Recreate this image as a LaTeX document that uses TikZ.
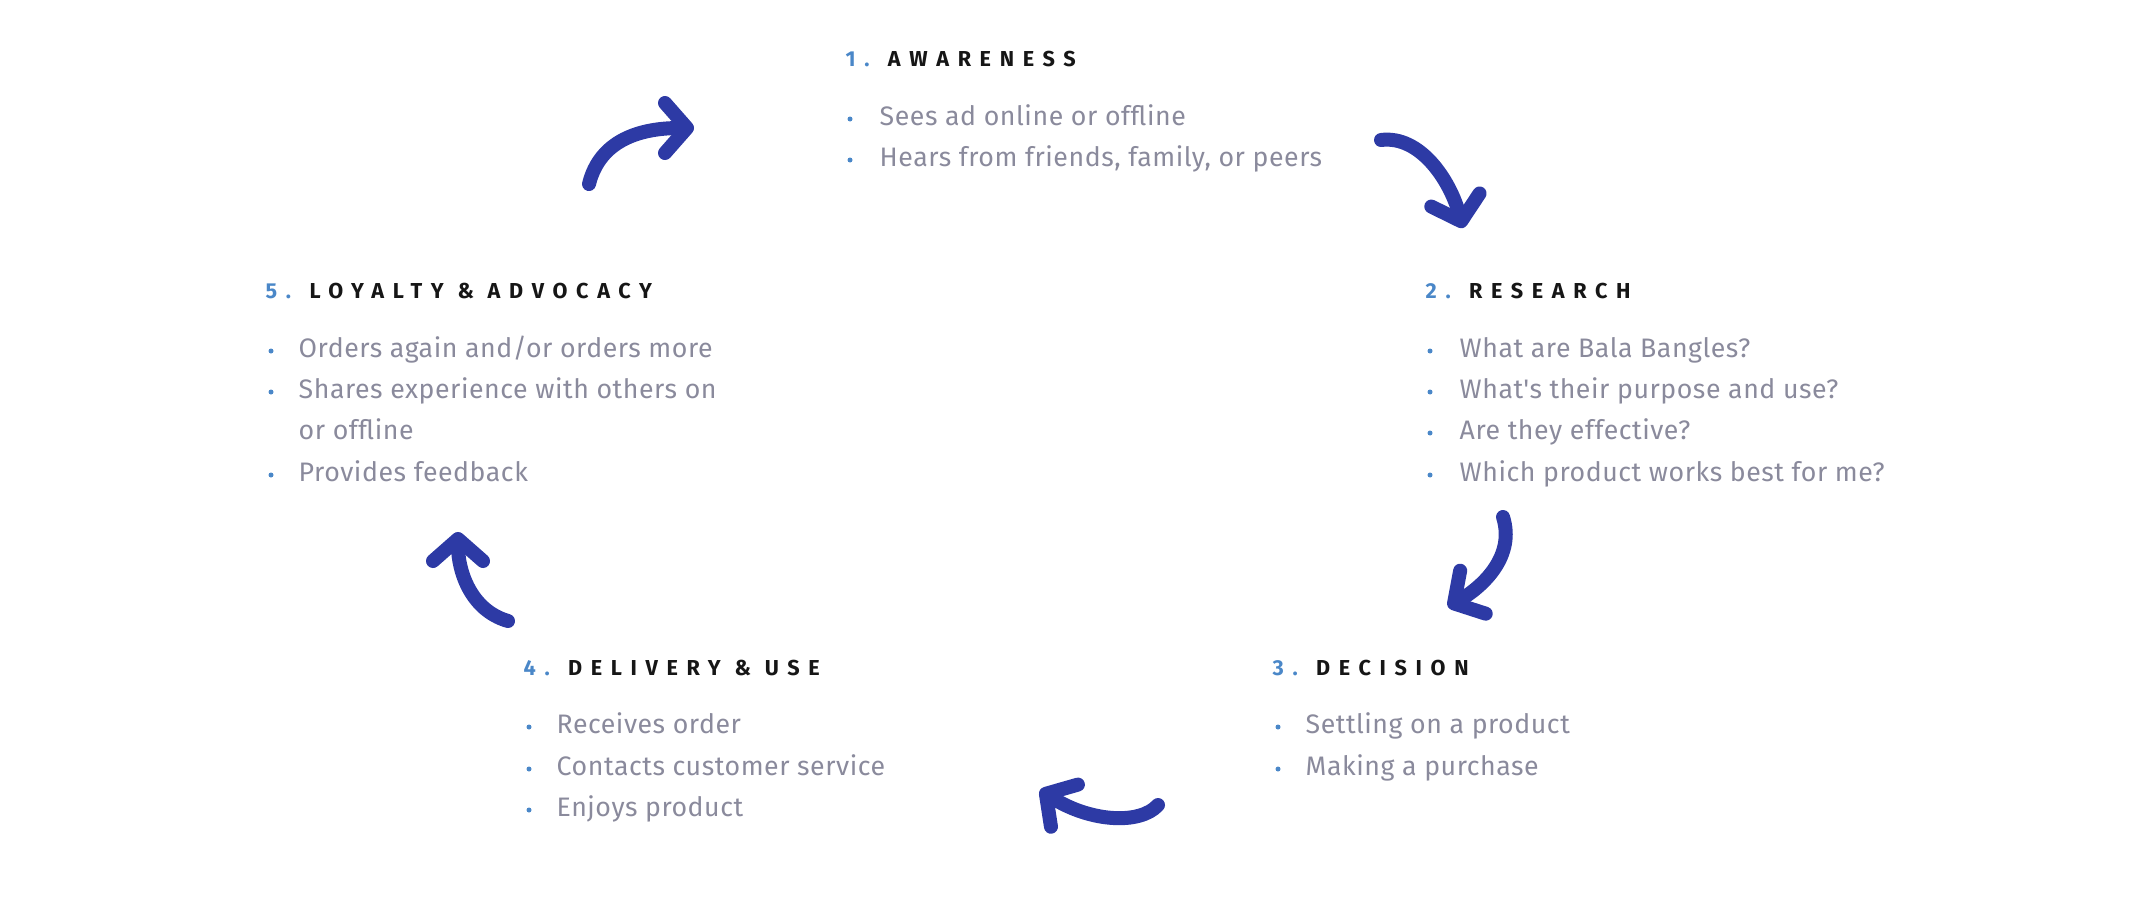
\documentclass[tikz,border=0pt]{standalone}
\usepackage{fontspec}
\usetikzlibrary{arrows.meta}
\newfontfamily\bodyfont{Fira Sans}[LetterSpace=2]
\newfontfamily\headfont{Fira Sans}[LetterSpace=40]
\definecolor{arrowblue}{HTML}{2D3AA5}
\definecolor{numblue}{HTML}{4A87C8}
\definecolor{bodygray}{HTML}{8A8A9C}
\definecolor{headblack}{HTML}{161616}
\tikzstyle{hd}=[anchor=base west,inner sep=0pt,text=headblack,font=\headfont\bfseries\fontsize{6.15}{7}\selectfont]
\tikzstyle{it}=[anchor=base west,inner sep=0pt,text=bodygray,font=\bodyfont\fontsize{7.6}{9}\selectfont]
\tikzstyle{dt}=[circle,fill=numblue,inner sep=0pt,minimum size=0.05cm]
\tikzstyle{swoosh}=[draw=arrowblue,line width=0.14cm,line cap=round,-{Straight Barb[round,length=0.22cm,width=0.5cm]}]

\begin{document}
\begin{tikzpicture}[x=0.01cm,y=-0.01cm]
\useasboundingbox (0,0) rectangle (2155,906);
% 1. awareness
\node[hd] (h1) at (845,66) {\textcolor{numblue}{1.} AWARENESS};
\node[dt] (d11) at (850,119) {}; \node[it] (t11) at (879,125) {Sees ad online or offline};
\node[dt] (d12) at (850,160) {}; \node[it] (t12) at (879,166) {Hears from friends, family, or peers};
% 2. research
\node[hd] (h2) at (1425,298) {\textcolor{numblue}{2.} RESEARCH};
\node[dt] (d21) at (1430,351) {}; \node[it] (t21) at (1459,357) {What are Bala Bangles?};
\node[dt] (d22) at (1430,392) {}; \node[it] (t22) at (1459,398) {What's their purpose and use?};
\node[dt] (d23) at (1430,433) {}; \node[it] (t23) at (1459,439) {Are they effective?};
\node[dt] (d24) at (1430,475) {}; \node[it] (t24) at (1459,481) {Which product works best for me?};
% 3. decision
\node[hd] (h3) at (1272,675) {\textcolor{numblue}{3.} DECISION};
\node[dt] (d31) at (1278,727) {}; \node[it] (t31) at (1305,733) {Settling on a product};
\node[dt] (d32) at (1278,769) {}; \node[it] (t32) at (1305,775) {Making a purchase};
% 4. delivery
\node[hd] (h4) at (523,675) {\textcolor{numblue}{4.} DELIVERY \& USE};
\node[dt] (d41) at (529,727) {}; \node[it] (t41) at (556,733) {Receives order};
\node[dt] (d42) at (529,769) {}; \node[it] (t42) at (556,775) {Contacts customer service};
\node[dt] (d43) at (529,810) {}; \node[it] (t43) at (556,816) {Enjoys product};
% 5. loyalty
\node[hd] (h5) at (265,298) {\textcolor{numblue}{5.} LOYALTY \& ADVOCACY};
\node[dt] (d51) at (271,351) {}; \node[it] (t51) at (298,357) {Orders again and/or orders more};
\node[dt] (d52) at (271,392) {}; \node[it] (t52) at (298,398) {Shares experience with others on};
\node[it] (t53) at (298,439) {or offline};
\node[dt] (d54) at (271,475) {}; \node[it] (t54) at (298,481) {Provides feedback};
% swooshes
\coordinate (s1) at (589,184); \coordinate (e1) at (694,128);
\coordinate (s2) at (1381,140); \coordinate (e2) at (1463,228);
\coordinate (s3) at (1503,517); \coordinate (e3) at (1448,607);
\coordinate (s4) at (1158,805); \coordinate (e4) at (1040,790);
\coordinate (s5) at (508,621); \coordinate (e5) at (458,532);
\draw[swoosh] (s1) .. controls (600,140) and (640,128) .. (e1);
\draw[swoosh] (s2) .. controls (1420,135) and (1450,180) .. (e2);
\draw[swoosh] (s3) .. controls (1515,555) and (1485,585) .. (e3);
\draw[swoosh] (s4) .. controls (1140,825) and (1090,822) .. (e4);
\draw[swoosh] (s5) .. controls (470,610) and (458,570) .. (e5);
\end{tikzpicture}
\end{document}
